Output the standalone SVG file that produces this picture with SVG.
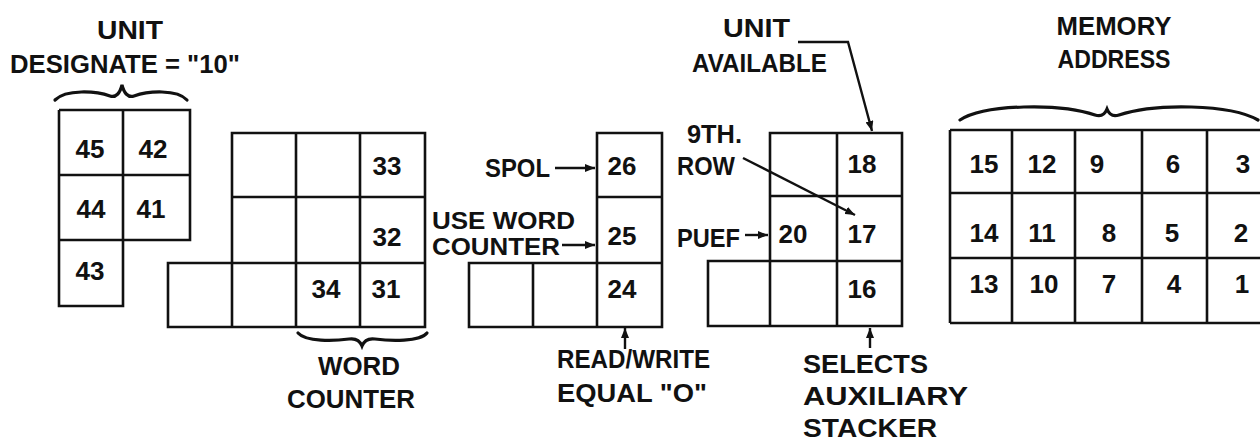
<svg xmlns="http://www.w3.org/2000/svg" width="1260" height="440" viewBox="0 0 1260 440">
<style>
text{font-family:"Liberation Sans",Arial,sans-serif;font-weight:bold;fill:#111}
.lbl{font-size:25px}
.sm{font-size:23px}
.num{font-size:26px;text-anchor:middle}
.grid{fill:none;stroke:#111;stroke-width:2.6;stroke-linejoin:miter}
.brace{fill:none;stroke:#111;stroke-width:3.2;stroke-linecap:round}
.conn{fill:none;stroke:#111;stroke-width:2.4}
</style>
<defs>
<marker id="ah" viewBox="0 0 10 8" refX="10" refY="4" markerWidth="10" markerHeight="8" markerUnits="userSpaceOnUse" orient="auto">
<path d="M0,0 L10,4 L0,8 Z" fill="#111"/>
</marker>
</defs>
<rect width="1260" height="440" fill="#fff"/>

<g id="unit-designate">
<text class="lbl" x="130" y="39" text-anchor="middle" textLength="66" lengthAdjust="spacingAndGlyphs">UNIT</text>
<text class="lbl" x="10" y="73" textLength="230" lengthAdjust="spacingAndGlyphs">DESIGNATE = "10"</text>
<path class="brace" d="M55,100 C66,89 96,91 110,96 C116,98 120,93 122,85 C124,93 128,98 134,96 C148,91 177,89 187,100"/>
<path class="grid" d="M59,110 H190 V240 H123 M59,110 V306 H123 V110 M59,175 H190 M59,240 H123"/>
<text class="num" x="90" y="158">45</text>
<text class="num" x="153" y="158">42</text>
<text class="num" x="91" y="218">44</text>
<text class="num" x="151" y="218">41</text>
<text class="num" x="90" y="280">43</text>
</g>

<g id="word-counter">
<path class="grid" d="M232,133 H425 V327 H168 V263 H232 Z M296,133 V327 M360,133 V327 M232,263 V327 M232,197 H425 M232,263 H425"/>
<text class="num" x="387" y="175">33</text>
<text class="num" x="387" y="246">32</text>
<text class="num" x="326" y="298">34</text>
<text class="num" x="386" y="298">31</text>
<path class="brace" d="M298,333 C306,342 334,341 349,339 C356,338 360,341 362,346 C364,341 368,338 375,339 C390,341 420,342 427,333"/>
<text class="lbl" x="318" y="375" textLength="82" lengthAdjust="spacingAndGlyphs">WORD</text>
<text class="lbl" x="287" y="408" textLength="128" lengthAdjust="spacingAndGlyphs">COUNTER</text>
</g>

<g id="control-block">
<path class="grid" d="M597,133 H662 V327 H469 V263 H597 Z M597,197 H662 M597,263 H662 M533,263 V327 M597,263 V327"/>
<text class="num" x="622" y="175">26</text>
<text class="num" x="622" y="245">25</text>
<text class="num" x="622" y="298">24</text>
<text class="lbl" x="485" y="177" textLength="65" lengthAdjust="spacingAndGlyphs">SPOL</text>
<text class="sm" x="432" y="229" textLength="143" lengthAdjust="spacingAndGlyphs">USE WORD</text>
<text class="sm" x="432" y="255" textLength="128" lengthAdjust="spacingAndGlyphs">COUNTER</text>
<text class="lbl" x="557" y="368" textLength="153" lengthAdjust="spacingAndGlyphs">READ/WRITE</text>
<text class="lbl" x="557" y="402" textLength="150" lengthAdjust="spacingAndGlyphs">EQUAL "O"</text>
</g>

<g id="unit-block">
<path class="grid" d="M770,133 H902 V326 H708 V261 H770 Z M837,133 V326 M770,196 H902 M770,261 H902 M770,261 V326"/>
<text class="num" x="862" y="173">18</text>
<text class="num" x="793" y="243">20</text>
<text class="num" x="862" y="243">17</text>
<text class="num" x="862" y="298">16</text>
<text class="lbl" x="723" y="37" textLength="67" lengthAdjust="spacingAndGlyphs">UNIT</text>
<text class="lbl" x="692" y="72" textLength="135" lengthAdjust="spacingAndGlyphs">AVAILABLE</text>
<text class="lbl" x="687" y="143" textLength="55" lengthAdjust="spacingAndGlyphs">9TH.</text>
<text class="lbl" x="677" y="175" textLength="58" lengthAdjust="spacingAndGlyphs">ROW</text>
<text class="lbl" x="677" y="247" textLength="63" lengthAdjust="spacingAndGlyphs">PUEF</text>
<text class="lbl" x="803" y="373" textLength="125" lengthAdjust="spacingAndGlyphs">SELECTS</text>
<text class="lbl" x="803" y="405" textLength="165" lengthAdjust="spacingAndGlyphs">AUXILIARY</text>
<text class="lbl" x="803" y="437" textLength="134" lengthAdjust="spacingAndGlyphs">STACKER</text>
</g>

<g id="memory-address">
<text class="lbl" x="1114" y="35" text-anchor="middle" textLength="115" lengthAdjust="spacingAndGlyphs">MEMORY</text>
<text class="lbl" x="1114" y="68" text-anchor="middle" textLength="113" lengthAdjust="spacingAndGlyphs">ADDRESS</text>
<path class="brace" d="M960,120 C985,104 1060,103 1095,115 C1101,117 1105,114 1107,109 C1109,114 1113,117 1119,115 C1155,103 1230,104 1258,120"/>
<path class="grid" d="M950,130 H1280 M950,193 H1280 M950,258 H1280 M950,323 H1280 M950,130 V323 M1012,130 V323 M1075,130 V323 M1142,130 V323 M1207,130 V323"/>
<text class="num" x="984" y="173">15</text>
<text class="num" x="1042" y="173">12</text>
<text class="num" x="1097" y="173">9</text>
<text class="num" x="1173" y="173">6</text>
<text class="num" x="1243" y="173">3</text>
<text class="num" x="984" y="242">14</text>
<text class="num" x="1042" y="242">11</text>
<text class="num" x="1109" y="242">8</text>
<text class="num" x="1172" y="242">5</text>
<text class="num" x="1241" y="242">2</text>
<text class="num" x="984" y="293">13</text>
<text class="num" x="1044" y="293">10</text>
<text class="num" x="1109" y="293">7</text>
<text class="num" x="1174" y="293">4</text>
<text class="num" x="1242" y="293">1</text>
</g>

<g id="connectors">
<line class="conn" x1="555" y1="168" x2="595" y2="168" marker-end="url(#ah)"/>
<line class="conn" x1="562" y1="245" x2="595" y2="245" marker-end="url(#ah)"/>
<line class="conn" x1="625" y1="349" x2="625" y2="328" marker-end="url(#ah)"/>
<polyline class="conn" points="798,42 848,42 872,131" marker-end="url(#ah)"/>
<line class="conn" x1="743" y1="158" x2="855" y2="215" marker-end="url(#ah)"/>
<line class="conn" x1="745" y1="235" x2="768" y2="235" marker-end="url(#ah)"/>
<line class="conn" x1="870" y1="348" x2="870" y2="328" marker-end="url(#ah)"/>
</g>
</svg>
